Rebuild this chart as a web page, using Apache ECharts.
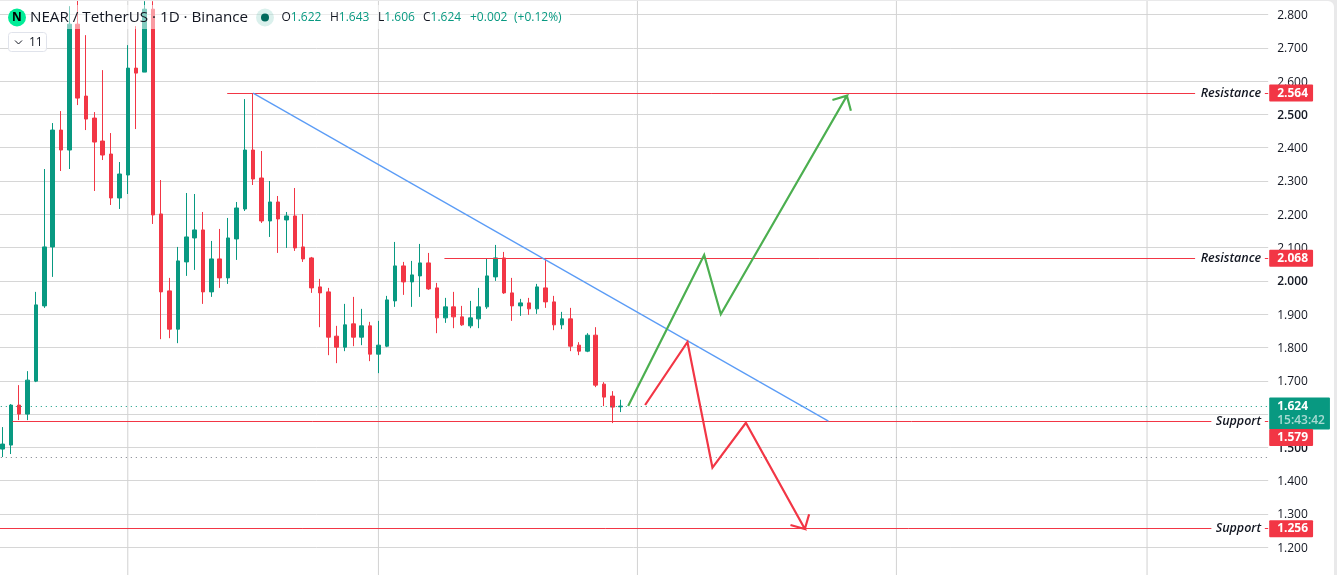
<!DOCTYPE html>
<html>
<head>
<meta charset="utf-8">
<style>
html,body{margin:0;padding:0;width:1337px;height:575px;overflow:hidden;background:#e9e9ea;}
#c{position:absolute;left:0;top:1px;width:1334px;height:574px;background:#fff;border-top-right-radius:6px;overflow:hidden;}
</style>
<script src="https://cdn.jsdelivr.net/npm/echarts@6/dist/echarts.min.js"></script>
</head>
<body>
<div id="c"></div>
<script>
const opens  = [1.495,1.507,1.627,1.600,1.699,1.925,2.102,2.453,2.393,2.771,2.555,2.489,2.420,2.381,2.249,2.318,2.639,2.627,2.816,2.201,1.970,1.855,2.057,2.129,2.153,1.967,2.066,2.009,2.126,2.216,2.393,2.309,2.180,2.237,2.183,2.195,2.102,2.069,1.982,1.967,1.834,1.801,1.871,1.831,1.865,1.780,1.804,1.940,2.045,1.997,2.015,2.054,1.979,1.889,1.922,1.892,1.865,1.886,1.922,2.012,2.069,1.964,1.925,1.934,1.916,1.979,1.937,1.868,1.886,1.807,1.789,1.837,1.690,1.654,1.622];
const highs  = [1.561,1.630,1.687,1.729,1.967,2.336,2.474,2.510,2.825,2.850,2.738,2.507,2.633,2.444,2.357,2.708,2.765,2.840,2.840,2.303,2.009,2.102,2.264,2.261,2.207,2.120,2.156,2.189,2.237,2.546,2.564,2.390,2.300,2.255,2.207,2.279,2.201,2.072,2.006,1.979,1.865,1.931,1.952,1.916,1.877,1.880,1.955,2.117,2.057,2.060,2.111,2.084,1.994,1.949,1.967,1.925,1.940,1.979,2.066,2.108,2.087,2.009,1.946,1.949,1.991,2.069,1.955,1.907,1.919,1.816,1.843,1.861,1.696,1.669,1.643];
const lows   = [1.471,1.480,1.582,1.582,1.696,1.919,2.012,2.330,2.336,2.528,2.453,2.270,2.363,2.228,2.216,2.261,2.456,2.627,2.171,1.825,1.828,1.813,2.015,2.033,1.931,1.952,1.979,1.991,2.063,2.210,2.288,2.174,2.132,2.084,2.099,2.090,2.057,1.964,1.861,1.777,1.753,1.789,1.804,1.807,1.759,1.723,1.801,1.922,1.958,1.922,1.952,1.973,1.843,1.874,1.858,1.865,1.858,1.858,1.916,2.000,1.961,1.880,1.895,1.898,1.901,1.919,1.852,1.855,1.789,1.777,1.786,1.681,1.624,1.573,1.606];
const closes = [1.510,1.627,1.600,1.702,1.928,2.102,2.453,2.393,2.771,2.549,2.486,2.417,2.378,2.249,2.321,2.639,2.624,2.816,2.198,1.967,1.855,2.060,2.132,2.153,1.967,2.066,2.009,2.129,2.219,2.393,2.306,2.180,2.237,2.186,2.195,2.099,2.066,1.979,1.964,1.831,1.801,1.868,1.831,1.865,1.780,1.807,1.943,2.045,1.997,2.018,2.054,1.976,1.889,1.922,1.892,1.868,1.889,1.922,2.015,2.069,1.964,1.925,1.934,1.916,1.982,1.937,1.868,1.886,1.804,1.789,1.837,1.687,1.651,1.621,1.624];
const categories = Array.from({length:152},(_,i)=>'D'+(i+1));
const monthStarts = [15,45,76,107,137];
const trendLine = [[30,2.564],[98.86,1.579]];
const greenPath = [[74.89,1.6243],[83.99,2.0777],[85.98,1.8997],[101.07,2.5561],[99.34,2.5432],[101.07,2.5561],[101.55,2.5111]];
const redPath = [[76.92,1.6273],[81.99,1.8165],[84.98,1.4390],[88.98,1.5741],[96.04,1.2549],[94.32,1.2670],[96.04,1.2549],[96.55,1.2991]];
const res1 = 2.564, res2 = 2.068, sup1 = 1.579, sup2 = 1.256, lastPrice = 1.624, dayLow = 1.47;
const levelLines = [
  {p:res1,start:26.9,gapL:142.75,text:'Resistance'},
  {p:res2,start:52.9,gapL:142.75,text:'Resistance'},
  {p:sup1,start:1.2,gapL:144.7,text:'Support'},
  {p:sup2,start:-0.5,gapL:144.7,text:'Support'}
];
const tickMin = 1.1, tickMax = 2.9, tickStep = 0.1;

const UP='#089981', DOWN='#F23645', TXT='#131722';
const FONT='"Open Sans"';
const END=151.5, GAPR=151.1;

const grid={left:-1.7,top:-19.8,width:1269.9,height:599.4,outerBoundsMode:'none',containLabel:false};
const lineBase={type:'line',xAxisIndex:1,yAxisIndex:0,symbol:'none',silent:true,animation:false,connectNulls:false};

const series=[];
// month separators
series.push(Object.assign({},lineBase,{name:'months',z:1,
  data:monthStarts.flatMap(m=>[[m,tickMin],[m,tickMax],[m,'-']]),
  lineStyle:{color:'#d2d2d2',width:1}}));
// candles
series.push({type:'candlestick',name:'NEARUSDT',xAxisIndex:0,yAxisIndex:0,z:3,barWidth:4,animation:false,silent:true,
  data:opens.map((o,i)=>[o,closes[i],lows[i],highs[i]]),
  itemStyle:{color:UP,color0:DOWN,borderColor:UP,borderColor0:DOWN,borderWidth:1}});
// horizontal levels, snapped to a pixel row: rows are [fromIndex, toIndex, price, kind]
const levelRows=[[-0.2,END,lastPrice,1],[-0.2,END,dayLow,2]];
levelLines.forEach(l=>{levelRows.push([l.start,l.gapL,l.p,0]);levelRows.push([GAPR,END,l.p,0]);});
series.push({type:'custom',xAxisIndex:1,yAxisIndex:0,z:5,silent:true,animation:false,clip:false,
  encode:{x:[0,1],y:2},
  data:levelRows,
  renderItem:function(params,api){
    const a=api.coord([api.value(0),api.value(2)]);
    const b=api.coord([api.value(1),api.value(2)]);
    const y=Math.floor(a[1])+0.5;
    const k=api.value(3);
    return {type:'line',shape:{x1:a[0],y1:y,x2:b[0],y2:y},
      style:{stroke:k===1?UP:k===2?'#787b86':DOWN,lineWidth:1,lineDash:k===0?null:[1,4]}};
  }});
levelLines.forEach(l=>{
  series.push({type:'scatter',xAxisIndex:1,yAxisIndex:0,z:6,silent:true,animation:false,symbolSize:0,clip:false,
    itemStyle:{opacity:1},
    data:[[150.65,l.p]],
    label:{show:true,position:'left',distance:0,formatter:l.text,color:TXT,fontFamily:FONT,fontStyle:'italic',fontSize:12.5,fontWeight:600}});
});
// trend + paths
series.push(Object.assign({},lineBase,{z:7,data:trendLine,lineStyle:{color:'#5b9cf6',width:1.3}}));
series.push(Object.assign({},lineBase,{z:7,data:greenPath,lineStyle:{color:'#4caf50',width:2.2,join:'miter'}}));
series.push(Object.assign({},lineBase,{z:7,data:redPath,lineStyle:{color:DOWN,width:2.2,join:'miter'}}));
// price tags
function tag(p,text,dy){
  series.push({type:'scatter',xAxisIndex:1,yAxisIndex:0,z:9,silent:true,animation:false,symbolSize:0,clip:false,
    itemStyle:{opacity:1},
    data:[[END,p]],
    label:{show:true,position:'right',distance:1,offset:[0,dy],formatter:text,color:'#fff',fontFamily:FONT,fontWeight:700,fontSize:12,
      backgroundColor:DOWN,borderRadius:1,padding:[2,5,2,8],lineHeight:13}});
}
tag(res1,res1.toFixed(3),0);
tag(res2,res2.toFixed(3),0);
tag(sup2,sup2.toFixed(3),0);
series.push({type:'scatter',xAxisIndex:1,yAxisIndex:0,z:8,silent:true,animation:false,symbolSize:0,clip:false,
  itemStyle:{opacity:1},
  data:[[END,lastPrice]],
  label:{show:true,position:'right',distance:1,offset:[0,7.5],
    formatter:'{a|'+lastPrice.toFixed(3)+'}\n{b|15:43:42}',
    backgroundColor:UP,borderRadius:1,padding:[2,5,2,8],
    rich:{a:{color:'#fff',fontFamily:FONT,fontWeight:700,fontSize:12,lineHeight:14},
          b:{color:'rgba(255,255,255,0.65)',fontFamily:FONT,fontWeight:600,fontSize:12,lineHeight:14}}}});
tag(sup1,sup1.toFixed(3),16.5);

// header
const legendRow=[[281.5,'O','1.622'],[330,'H','1.643'],[378,'L','1.606'],[423,'C','1.624']];
const graphic=[
  {type:'rect',z:100,silent:true,shape:{x:8,y:4,width:562,height:24},style:{fill:'rgba(255,255,255,0.5)'}},
  {type:'circle',z:101,silent:true,shape:{cx:17,cy:16.5,r:9},style:{fill:'#00ec97'}},
  {type:'text',z:102,silent:true,style:{x:17,y:16.5,text:'N',fill:'#000',font:'bold 12px '+FONT,align:'center',verticalAlign:'middle'}},
  {type:'text',z:102,silent:true,style:{x:30,y:16.5,text:'NEAR / TetherUS · 1D · Binance',fill:TXT,font:'15.2px '+FONT,verticalAlign:'middle'}},
  {type:'circle',z:101,silent:true,shape:{cx:265,cy:16.5,r:9},style:{fill:'rgba(8,153,129,0.15)'}},
  {type:'circle',z:102,silent:true,shape:{cx:265,cy:16.5,r:4},style:{fill:'#00695c'}},
  {type:'text',z:102,silent:true,style:{x:470,y:16.5,text:'+0.002',fill:UP,font:'12px '+FONT,verticalAlign:'middle'}},
  {type:'text',z:102,silent:true,style:{x:514,y:16.5,text:'(+0.12%)',fill:UP,font:'12px '+FONT,verticalAlign:'middle'}},
  {type:'rect',z:102,silent:true,shape:{x:8.5,y:31.5,width:38,height:19,r:3},style:{fill:'rgba(255,255,255,0.8)',stroke:'#e0e3eb',lineWidth:1}},
  {type:'polyline',z:103,silent:true,shape:{points:[[15,39.5],[18.5,43],[22,39.5]]},style:{stroke:TXT,lineWidth:1,fill:'none'}},
  {type:'text',z:103,silent:true,style:{x:29,y:41.5,text:'11',fill:TXT,font:'12px '+FONT,verticalAlign:'middle'}}
];
legendRow.forEach(r=>{
  graphic.push({type:'text',z:102,silent:true,style:{x:r[0],y:16.5,text:'{k|'+r[1]+'}{v|'+r[2]+'}',verticalAlign:'middle',
    rich:{k:{fill:TXT,font:'12px '+FONT},v:{fill:UP,font:'12px '+FONT}}}});
});

const chart=echarts.init(document.getElementById('c'));
chart.setOption({
  animation:false,
  backgroundColor:'transparent',
  grid:grid,
  xAxis:[
    {type:'category',data:categories,show:false,boundaryGap:true},
    {type:'value',min:-0.5,max:END,show:false,splitLine:{show:false}}
  ],
  yAxis:[{
    type:'value',position:'right',min:tickMin,max:tickMax,interval:tickStep,scale:true,
    axisLine:{show:false},axisTick:{show:false},
    splitLine:{show:true,lineStyle:{color:'#d6d6d6',width:1}},
    axisLabel:{margin:9,color:TXT,fontFamily:FONT,fontSize:12,padding:[2,0,0,0],
      formatter:function(v){
        const k=Math.round(v*1000);
        if(k===1100||k===2900) return '';
        const s=(k/1000).toFixed(3);
        return k%500===0?'{b|'+s+'}':'{a|'+s+'}';
      },
      rich:{a:{color:TXT,fontFamily:FONT,fontSize:12},b:{color:TXT,fontFamily:FONT,fontSize:12,fontWeight:600}}}
  }],
  series:series,
  graphic:graphic
});
</script>
</body>
</html>
